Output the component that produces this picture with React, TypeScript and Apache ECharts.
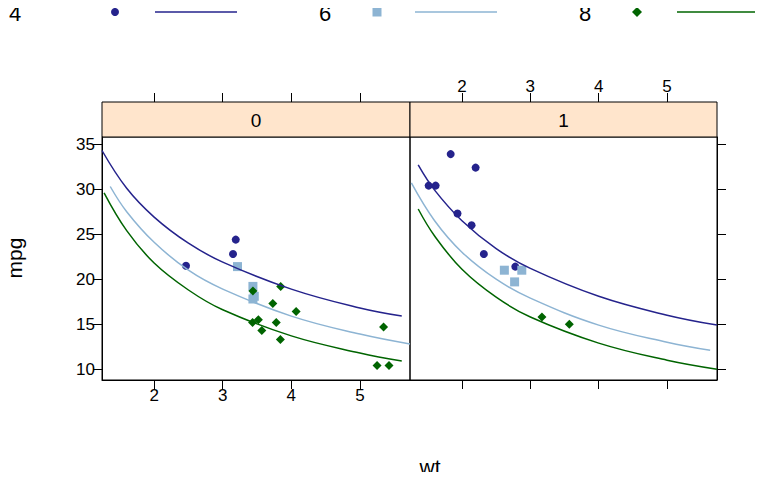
import { useEffect, useRef } from 'react'
import * as echarts from 'echarts'

// mtcars: [wt, mpg]
const auto4 = [[3.19, 24.4], [3.15, 22.8], [2.465, 21.5]]
const auto6 = [[3.215, 21.4], [3.46, 18.1], [3.44, 19.2], [3.44, 17.8]]
const auto8 = [[3.44, 18.7], [3.57, 14.3], [4.07, 16.4], [3.73, 17.3], [3.78, 15.2], [5.25, 10.4], [5.424, 10.4], [5.345, 14.7], [3.52, 15.5], [3.435, 15.2], [3.84, 13.3], [3.845, 19.2]]
const man4 = [[2.32, 22.8], [2.2, 32.4], [1.615, 30.4], [1.835, 33.9], [1.935, 27.3], [2.14, 26.0], [1.513, 30.4], [2.78, 21.4]]
const man6 = [[2.62, 21.0], [2.875, 21.0], [2.77, 19.7]]
const man8 = [[3.17, 15.8], [3.57, 15.0]]

// fitted curves
const fitAuto4 = [[1.24, 34.3], [1.6, 30.1], [2, 26.9], [2.5, 24.0], [3, 21.9], [4, 18.9], [5, 16.8], [5.61, 15.9]]
const fitAuto6 = [[1.36, 30.3], [1.6, 27.5], [2, 24.1], [2.5, 21.0], [3, 18.9], [4, 15.9], [5, 13.9], [5.73, 12.8]]
const fitAuto8 = [[1.27, 29.6], [1.6, 25.4], [2, 21.8], [2.5, 18.8], [3, 16.6], [4, 13.7], [5, 11.8], [5.61, 10.9]]
const fitMan4 = [[1.36, 32.7], [1.6, 29.9], [2, 26.5], [2.5, 23.4], [3, 21.2], [4, 18.1], [5, 16.0], [5.73, 14.9]]
const fitMan6 = [[1.26, 30.7], [1.6, 26.5], [2, 23.0], [2.5, 20.0], [3, 17.9], [4, 14.9], [5, 13.0], [5.63, 12.1]]
const fitMan8 = [[1.36, 27.8], [1.6, 24.8], [2, 21.1], [2.5, 18.0], [3, 15.8], [4, 12.9], [5, 11.0], [5.73, 10.0]]

const xTicks = [2, 3, 4, 5]
const yTicks = [10, 15, 20, 25, 30, 35]
const groups = ['4', '6', '8']
const panels = ['0', '1']

const c4 = '#25238c'
const c6 = '#8db4d3'
const c8 = '#006400'
const font = 'Liberation Sans, Arial, sans-serif'

export default function App() {
  const ref = useRef<HTMLDivElement>(null)
  useEffect(() => {
    if (!ref.current) return
    const chart = echarts.init(ref.current, null, { renderer: 'svg' })
    const tick = { show: true, inside: false, length: 9, lineStyle: { color: '#000' }, customValues: xTicks }
    const lab = (show: boolean) => ({ show, color: '#000', fontSize: 17, fontFamily: font, margin: 7, customValues: xTicks })
    const xa = (grid: number, pos: string, show: boolean, offset = 0) => ({
      type: 'value', gridIndex: grid, position: pos, offset, min: 1.24, max: 5.73,
      axisLine: { show: offset === 0, lineStyle: { color: '#000' } },
      axisTick: tick, axisLabel: lab(show), splitLine: { show: false }
    })
    const ya = (grid: number, pos: string, show: boolean) => ({
      type: 'value', gridIndex: grid, position: pos, min: 8.8, max: 35.8,
      axisLine: { show: true, lineStyle: { color: '#000' } },
      axisTick: { ...tick, customValues: yTicks },
      axisLabel: { ...lab(show), customValues: yTicks },
      splitLine: { show: false }
    })
    const pts = (data: number[][], color: string, symbol: string, size: number, i: number) => ({
      type: 'scatter', data, xAxisIndex: i * 2, yAxisIndex: i, symbol, symbolSize: size,
      itemStyle: { color, opacity: 1 }
    })
    const ln = (data: number[][], color: string, i: number) => ({
      type: 'line', data, smooth: 0.4, showSymbol: false, xAxisIndex: i * 2, yAxisIndex: i,
      lineStyle: { color, width: 1.5 }
    })
    const txt = (x: number, y: number, text: string, size: number, extra: any = {}) => ({
      type: 'text', x, y, ...extra,
      style: { text, fill: '#000', font: `${size}px ${font}`, align: 'center', verticalAlign: 'middle' }
    })
    const strip = (left: number, w: number, label: string) => ({
      type: 'group', children: [
        { type: 'rect', shape: { x: left, y: 102, width: w, height: 35 }, style: { fill: '#ffe5cc', stroke: '#000', lineWidth: 1 } },
        txt(left + w / 2, 120, label, 19)
      ]
    })
    const legendItem = (tx: number, lx: number, label: string, color: string, marker: any) => ([
      txt(tx, 13, label, 22),
      { ...marker, style: { fill: color } },
      { type: 'line', shape: { x1: lx, y1: 12, x2: lx + 82, y2: 12 }, style: { stroke: color, lineWidth: 1.5 } }
    ])
    chart.setOption({
      animation: false,
      grid: [
        { left: 102, top: 137, width: 308, height: 243, show: true, borderColor: '#000', borderWidth: 1 },
        { left: 410, top: 137, width: 307, height: 243, show: true, borderColor: '#000', borderWidth: 1 }
      ],
      xAxis: [
        xa(0, 'bottom', true), xa(0, 'top', false, 35),
        xa(1, 'bottom', false), xa(1, 'top', true, 35)
      ],
      yAxis: [ya(0, 'left', true), ya(1, 'right', false)],
      series: [
        ln(fitAuto4, c4, 0), ln(fitAuto6, c6, 0), ln(fitAuto8, c8, 0),
        ln(fitMan4, c4, 1), ln(fitMan6, c6, 1), ln(fitMan8, c8, 1),
        pts(auto4, c4, 'circle', 8, 0), pts(auto6, c6, 'rect', 9, 0), pts(auto8, c8, 'diamond', 9, 0),
        pts(man4, c4, 'circle', 8, 1), pts(man6, c6, 'rect', 9, 1), pts(man8, c8, 'diamond', 9, 1)
      ],
      graphic: [
        strip(102, 308, panels[0]),
        strip(410, 307, panels[1]),
        txt(430, 466, 'wt', 21),
        txt(14, 258, 'mpg', 21, { rotation: Math.PI / 2 }),
        ...legendItem(15, 155, groups[0], c4, { type: 'circle', shape: { cx: 115, cy: 12, r: 4 } }),
        ...legendItem(325, 415, groups[1], c6, { type: 'rect', shape: { x: 372.5, y: 7.5, width: 9, height: 9 } }),
        ...legendItem(585, 677, groups[2], c8, { type: 'polygon', shape: { points: [[637, 7], [642, 12], [637, 17], [632, 12]] } })
      ]
    })
    return () => chart.dispose()
  }, [])
  return <div ref={ref} style={{ width: 763, height: 480, margin: -8 }} />
}
